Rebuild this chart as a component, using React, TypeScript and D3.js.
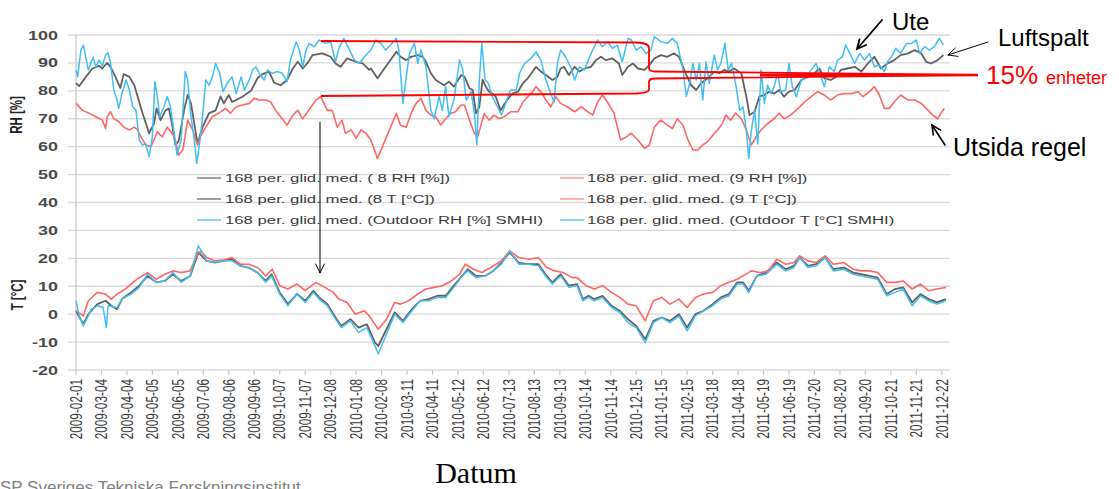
import React from 'react';
import * as d3 from 'd3';

const START = '2009-02-01';
const END = '2012-01-01';

const tickLabels = [
  '2009-02-01','2009-03-04','2009-04-04','2009-05-05','2009-06-05','2009-07-06','2009-08-06','2009-09-06','2009-10-07','2009-11-07','2009-12-08',
  '2010-01-08','2010-02-08','2010-03-11','2010-04-11','2010-05-12','2010-06-12','2010-07-13','2010-08-13','2010-09-13','2010-10-14','2010-11-14','2010-12-15',
  '2011-01-15','2011-02-15','2011-03-18','2011-04-18','2011-05-19','2011-06-19','2011-07-20','2011-08-20','2011-09-20','2011-10-21','2011-11-21','2011-12-22',
];
const yTicks = [100, 90, 80, 70, 60, 50, 40, 30, 20, 10, 0, -10, -20];

const legendLeft = ['168 per. glid. med. ( 8 RH [%])', '168 per. glid. med. (8 T [°C])', '168 per. glid. med. (Outdoor RH [%] SMHI)'];
const legendRight = ['168 per. glid. med. (9 RH [%])', '168 per. glid. med. (9 T [°C])', '168 per. glid. med. (Outdoor T [°C] SMHI)'];

// [days since START, value]
const rh8: [number, number][] = [[0,82.7],[4,81.7],[12,85],[20,88],[28,89],[32,88],[38,90],[42,88.6],[48,85],[54,81],[58,86],[65,85],[71,82],[75,78],[81,72],[89,64.8],[95,68.3],[98,73.7],[103,69.5],[109,73],[113,73.7],[117,68],[121,60.6],[125,62],[132,73.7],[136,78.5],[140,75.5],[148,61],[154,67],[162,72],[170,73],[176,78],[180,75.5],[186,78.5],[190,76],[195,76.7],[203,78],[213,80],[221,84.5],[227,86],[235,86.9],[241,83],[249,82],[257,83.9],[264,88],[270,90.4],[276,88],[282,90],[288,92.8],[300,93.4],[310,92.2],[316,89.8],[322,88.6],[330,91.6],[341,90.4],[349,89.8],[357,87.5],[359,88],[367,84.5],[390,94],[395,92.2],[402,91],[408,92.2],[416,92.8],[422,92.2],[426,90.4],[432,86.3],[438,83.9],[448,82],[454,83.3],[460,81.5],[469,85.7],[473,85],[479,80.9],[483,80.3],[487,71.9],[491,74.3],[495,83.9],[499,81.5],[503,79.7],[507,79],[511,77.9],[517,73],[521,75],[525,76.7],[531,79],[538,79.7],[544,82.7],[550,84.5],[556,86.9],[560,88.6],[566,86.9],[572,85.7],[580,83.9],[586,85],[590,88],[594,88.6],[600,85.7],[607,88.6],[613,86.9],[619,88],[627,88.6],[633,91],[639,92.2],[645,91],[653,91.6],[661,89.8],[665,85.7],[672,88.6],[678,89.8],[684,88],[692,87.5],[698,89.2],[704,91.6],[712,92.8],[720,92.2],[728,93.4],[734,92.2],[739,88.6],[743,85.7],[749,82],[755,80.3],[761,82.7],[769,84.5],[777,86.9],[783,86.3],[789,87.5],[795,86.9],[801,88],[810,86.3],[816,78],[820,71.3],[826,72.5],[832,78],[838,78.5],[844,79.7],[850,79],[856,80.3],[862,77.9],[868,79.7],[875,80.3],[883,83.9],[891,85],[899,86.3],[905,88],[911,84.5],[919,83.9],[925,85],[931,87.5],[939,88],[948,88.6],[956,86.9],[964,89.8],[972,92.2],[980,88],[988,89.8],[996,91],[1004,92.8],[1013,93.4],[1021,94.6],[1029,93.4],[1035,90.4],[1041,89.8],[1049,91],[1056,92.8]];

const rh9: [number, number][] = [[0,75.5],[8,73],[16,72],[24,70.7],[32,69.5],[36,66.5],[38,70.7],[42,72.5],[46,70],[52,69],[58,67],[65,66],[71,67],[75,66],[79,63.5],[85,60.6],[91,60],[95,62.4],[99,65.4],[105,63.5],[111,67],[117,64.8],[121,62.4],[125,57],[130,58.8],[136,69.5],[142,66],[148,60.6],[152,64],[158,67],[166,70.7],[174,72],[182,73.7],[188,72],[195,74.3],[203,74.9],[211,75.5],[217,77.3],[223,76.7],[231,76.7],[237,76],[243,73],[251,70],[257,67.7],[264,71.3],[270,73],[276,70],[282,72.5],[292,76.7],[298,77.9],[306,73],[312,73],[318,67],[324,69.5],[328,64.8],[335,66],[341,63],[347,66],[353,64.8],[359,62.4],[367,55.8],[390,71.9],[395,67.7],[402,67],[408,71.9],[414,75.5],[420,77.3],[426,73],[432,71.3],[438,70.7],[444,67.7],[450,70],[456,71.9],[462,72.5],[469,74.9],[473,74.9],[479,69.5],[485,64.8],[489,63.5],[493,67.7],[497,71.9],[503,69.5],[509,71.3],[515,70],[521,70.7],[529,72.5],[538,72.5],[544,76],[550,77.9],[556,79.7],[560,81.5],[566,79.7],[572,76.7],[578,74.3],[584,77.9],[590,75.5],[598,74.3],[607,72.5],[615,74.3],[623,72.5],[629,71.3],[635,76],[641,78.5],[647,76],[655,71.9],[663,62.4],[670,63.5],[676,64.8],[684,62.4],[692,59.4],[698,60.6],[704,67],[712,69.5],[720,67.7],[726,66.5],[732,70],[739,67.7],[745,62.4],[751,58.8],[757,58.8],[763,60.6],[769,61.8],[775,64],[781,66],[787,68.3],[791,71.3],[797,69.5],[803,72],[810,70],[816,66],[822,60.6],[828,63.5],[834,66],[842,68.3],[850,70],[856,72],[862,70],[870,71.3],[879,73.7],[887,76],[895,77.9],[903,79.7],[911,78.5],[919,76.7],[927,78.5],[935,79],[944,79],[952,79.7],[958,77.9],[966,79.7],[972,81.5],[978,78.5],[984,73.7],[990,73.7],[996,76],[1004,78.5],[1013,76.7],[1021,76.7],[1029,75.5],[1035,73.7],[1043,71.3],[1049,70],[1053,72],[1057,73.7]];

const rhOut: [number, number][] = [[0,87.5],[2,85],[6,94.6],[9,96.4],[12,92],[15,87.5],[18,90],[21,92],[24,88.6],[28,91],[32,89],[36,92.8],[39,93.7],[42,90],[46,80.3],[50,76.7],[52,73.7],[56,79],[61,83.9],[65,80.3],[69,74.3],[73,73],[77,62.4],[81,60.6],[85,61],[89,56.4],[93,63.5],[96,83.3],[99,78],[102,70.7],[107,74.3],[111,78],[115,74.3],[119,66],[123,57],[128,62.4],[133,86.9],[136,83.9],[140,70.7],[144,62.4],[147,54],[151,62.4],[154,70.7],[158,83.9],[162,82],[166,85],[170,89.8],[175,86.3],[179,79.7],[184,82.7],[190,85],[195,79],[201,85],[205,80.3],[211,83.9],[215,87.5],[219,88.6],[223,86.3],[229,83.9],[233,87.5],[239,86.3],[245,86.9],[251,86.3],[257,83.3],[261,91],[268,97.6],[272,94.6],[276,88.6],[280,94.6],[284,97],[290,95.8],[296,98.2],[304,97],[310,97.6],[316,90.4],[320,95.2],[326,98.8],[333,94.6],[339,91],[345,89.8],[351,92.2],[359,94.6],[365,98.2],[371,97],[377,94.6],[383,96.4],[390,98.8],[393,94.6],[398,75.5],[402,85],[406,93.4],[412,97],[416,89.8],[420,94.6],[426,88.6],[432,73],[436,70],[442,78],[446,73],[450,81.5],[454,70.7],[460,76.7],[467,91],[471,87.5],[475,76.7],[481,79.7],[485,71.9],[488,60.6],[491,83.9],[494,97],[498,83.9],[502,82.7],[507,77.9],[513,74.3],[518,71.3],[523,75.5],[529,80.3],[536,80.3],[540,86.3],[546,89.8],[554,91.6],[560,94],[566,91],[572,83.9],[578,79],[582,76],[586,89.8],[590,94.6],[596,92.2],[603,88],[607,83.9],[613,88.6],[619,87.5],[627,93.4],[635,98.2],[641,95.8],[647,97.6],[653,95.2],[659,96.4],[665,90.4],[672,98.8],[676,98.2],[682,94.6],[688,95.8],[694,93.4],[700,94.6],[704,99.4],[712,97.6],[720,97],[726,98.8],[732,97],[739,87.5],[743,78],[747,82.7],[751,89.8],[755,83.9],[759,89.8],[763,76.7],[767,90.4],[771,82.7],[777,92.8],[781,87.5],[785,89.8],[790,97],[794,87.5],[798,89.8],[803,82.7],[808,73],[812,74.3],[816,66],[819,55.8],[822,65.4],[826,73],[830,61],[834,87.5],[838,75.5],[842,82],[846,79],[850,81.5],[854,86.3],[858,79.7],[864,80.3],[868,89.8],[872,81.5],[877,77.9],[883,83.9],[889,85],[895,87.5],[901,89.8],[907,85],[911,81.5],[917,88.6],[923,86.9],[927,91],[933,92.2],[937,96.4],[942,93.4],[948,89.8],[954,93.4],[960,91],[966,93.4],[972,88.6],[978,89.2],[984,86.9],[988,90.4],[994,92.8],[998,95.2],[1004,93.4],[1011,97],[1017,97],[1023,98.2],[1027,93.4],[1033,95.8],[1039,94.6],[1045,95.8],[1051,98.8],[1056,96.4]];

const t8: [number, number][] = [[0,1.2],[9,-3.6],[15,0],[26,3.6],[36,4.8],[43,3],[50,1.8],[56,5.4],[67,7.8],[77,10.2],[87,13.7],[98,11.4],[108,11.9],[118,14.3],[128,11.9],[139,13.7],[149,22.1],[159,19.1],[169,18.5],[180,19.1],[190,19.7],[200,17.3],[210,16.7],[221,14.9],[231,11.9],[238,14.3],[248,7.8],[258,3.6],[269,7.2],[279,4.8],[289,8.4],[296,6],[306,3.6],[316,-1.2],[323,-4.2],[334,-1.8],[344,-4.8],[354,-3.6],[364,-10.2],[368,-11.4],[388,0.6],[398,-2.4],[409,1.8],[419,4.8],[429,5.4],[440,6.6],[450,6.6],[460,10.2],[470,13.7],[477,16.1],[487,13.7],[498,13.7],[508,15.5],[518,18.5],[528,22.1],[539,18.5],[549,17.9],[563,17.9],[573,13.7],[580,11.4],[590,14.3],[600,10.2],[610,10.8],[617,5.4],[624,6.6],[631,5.4],[641,6.6],[652,3],[662,1.2],[672,-1.8],[682,-4.2],[693,-9],[703,-2.4],[713,-1.2],[723,-2.4],[734,0],[744,-4.8],[754,0],[764,1.2],[775,3.6],[785,6],[795,7.2],[805,11.4],[812,11.4],[819,8.4],[829,13.7],[840,14.9],[853,18.5],[864,16.1],[874,17.3],[881,20.3],[891,17.3],[901,17.9],[912,20.3],[922,16.1],[935,16.7],[946,14.9],[956,14.3],[966,13.7],[976,13.1],[987,7.2],[997,9],[1007,9.6],[1018,4.2],[1028,7.2],[1038,5.4],[1048,4.2],[1059,5.4]];

const t9: [number, number][] = [[0,1.2],[9,-0.6],[15,4.8],[26,7.8],[36,7.2],[43,5.4],[50,7.2],[60,9],[74,12.5],[87,14.9],[98,12.5],[108,14.3],[118,15.5],[128,14.9],[139,15.5],[145,19.7],[152,22.7],[159,20.3],[169,19.1],[180,19.5],[190,20.3],[200,17.9],[210,17.9],[221,16.7],[231,13.7],[239,16.1],[248,10.2],[258,9],[269,10.8],[279,8.4],[292,11.4],[303,9.6],[313,7.8],[320,5.4],[330,4.2],[340,0],[351,1.2],[357,-0.6],[368,-5.4],[378,-1.8],[388,4.2],[395,3.6],[405,4.8],[416,7.2],[426,9],[436,9.6],[446,10.2],[457,11.9],[467,14.3],[474,17.9],[484,16.1],[494,14.9],[505,16.7],[518,19.1],[528,22.7],[539,20.3],[552,19.7],[563,20.3],[573,16.7],[583,15.5],[593,14.9],[604,13.1],[610,13.1],[621,10.2],[631,9],[641,10.2],[652,7.8],[662,6],[672,3.6],[682,3],[693,-2.4],[703,4.8],[713,6],[723,3.6],[734,5.4],[744,2.4],[754,6],[764,7.2],[775,7.8],[785,10.2],[795,11.4],[805,12.5],[812,13.7],[822,15.5],[833,14.9],[843,15.5],[853,19.7],[864,17.9],[874,18.5],[881,20.9],[891,19.1],[901,18.5],[912,20.9],[922,17.9],[935,18.5],[946,16.1],[956,15.5],[966,15.5],[976,14.9],[987,11.4],[997,11.4],[1007,11.9],[1018,9],[1028,10.8],[1038,8.4],[1048,9],[1059,9.6]];

const tOut: [number, number][] = [[0,4.8],[4,-0.6],[9,-4.2],[19,1.8],[26,3],[33,2.4],[37,-4.8],[39,3],[50,2.4],[56,5.4],[67,7.2],[77,9.6],[87,14.3],[98,11.4],[108,11.9],[118,14.9],[128,11.4],[139,13.7],[149,24.5],[159,19.1],[169,18.5],[180,19.1],[190,19.1],[200,17.3],[210,16.7],[221,14.9],[231,11.4],[238,13.7],[248,7.2],[258,3],[269,7.2],[279,4.2],[289,7.8],[296,5.4],[306,3],[316,-1.8],[323,-4.8],[334,-2.4],[344,-6.6],[354,-4.8],[364,-11.4],[368,-14.3],[388,0],[398,-3],[409,1.2],[419,4.8],[429,4.8],[440,6],[450,6],[460,9.6],[470,13.7],[477,15.5],[487,13.1],[498,13.7],[508,15.5],[518,17.9],[528,22.7],[539,17.9],[549,17.9],[563,17.3],[573,13.1],[580,10.8],[590,13.7],[600,9.6],[610,10.2],[617,4.8],[624,6],[631,4.8],[641,6],[652,2.4],[662,0.6],[672,-3],[682,-4.8],[693,-10.2],[703,-3],[713,-1.2],[723,-3],[734,-0.6],[744,-6],[754,-0.6],[764,1.2],[775,3],[785,5.4],[795,6.6],[805,10.8],[812,10.8],[819,7.8],[829,13.7],[840,14.3],[853,17.9],[864,15.5],[874,16.7],[881,20.3],[891,16.7],[901,17.3],[912,20.3],[922,15.5],[935,16.1],[946,14.3],[956,13.7],[966,13.1],[976,12.5],[987,6.6],[997,7.8],[1007,9],[1018,3],[1028,6.6],[1038,4.8],[1048,3.6],[1059,4.8]];

const GRAY = '#606060';
const RED = '#ff6666';
const BLUE = '#42bff2';
const SANS = '"Liberation Sans", Arial, sans-serif';
const SX = 1.5;

function Arrow({ x1, y1, x2, y2, w = 1, head = 9 }: { x1: number; y1: number; x2: number; y2: number; w?: number; head?: number }) {
  const a = Math.atan2(y2 - y1, x2 - x1);
  const s = 0.45;
  const p1 = [x2 - head * Math.cos(a - s), y2 - head * Math.sin(a - s)];
  const p2 = [x2 - head * Math.cos(a + s), y2 - head * Math.sin(a + s)];
  return (
    <g stroke="#000" strokeWidth={w} fill="none" strokeLinecap="round">
      <line x1={x1} y1={y1} x2={x2} y2={y2} />
      <polyline points={`${p1[0]},${p1[1]} ${x2},${y2} ${p2[0]},${p2[1]}`} />
    </g>
  );
}

export default function App() {
  const parse = d3.timeParse('%Y-%m-%d');
  const t0 = parse(START) as Date;
  const x = d3.scaleTime().domain([t0, parse(END) as Date]).range([76, 950]);
  const y = d3.scaleLinear().domain([-20, 100]).range([370, 35]);
  const line = d3
    .line<[number, number]>()
    .x((d) => x(d3.timeDay.offset(t0, d[0])))
    .y((d) => y(d[1]));

  const series: { data: [number, number][]; color: string; w: number }[] = [
    { data: rh8, color: GRAY, w: 1.8 },
    { data: rh9, color: RED, w: 1.6 },
    { data: t8, color: GRAY, w: 1.8 },
    { data: t9, color: RED, w: 1.6 },
    { data: rhOut, color: BLUE, w: 1.5 },
    { data: tOut, color: BLUE, w: 1.5 },
  ];
  const legendColorsLeft = [GRAY, GRAY, BLUE];
  const legendColorsRight = ['#ff8080', '#ff8080', BLUE];
  const legendRows = [178, 199, 220];

  return (
    <div style={{ position: 'absolute', left: 0, top: 0 }}>
      <svg width={1119} height={489} style={{ display: 'block', background: '#fff' }}>
        {yTicks.map((v) => (
          <line key={v} x1={68} x2={950} y1={y(v)} y2={y(v)} stroke="#d9d9d9" strokeWidth={1.3} />
        ))}
        <line x1={76} x2={76} y1={y(100)} y2={y(-20)} stroke="#c8c8c8" strokeWidth={1.3} />
        {tickLabels.map((s) => (
          <line key={s} x1={x(parse(s) as Date)} x2={x(parse(s) as Date)} y1={370} y2={375} stroke="#c8c8c8" strokeWidth={1.2} />
        ))}
        {yTicks.map((v) => (
          <text key={v} transform={`translate(58,${y(v) + 4.5}) scale(${SX},1)`} textAnchor="end" fontFamily={SANS} fontSize={12} fontWeight="bold" fill="#4a4a4a">
            {v}
          </text>
        ))}
        <text transform={`translate(16,115) scale(${SX},1) rotate(-90)`} textAnchor="middle" dominantBaseline="central" fontFamily={SANS} fontSize={11.5} fontWeight="bold" fill="#222">
          RH [%]
        </text>
        <text transform={`translate(17,295) scale(${SX},1) rotate(-90)`} textAnchor="middle" dominantBaseline="central" fontFamily={SANS} fontSize={11.5} fontWeight="bold" fill="#222">
          T [°C]
        </text>
        {tickLabels.map((s) => (
          <text key={s} transform={`translate(${x(parse(s) as Date)},379) scale(1.4,1) rotate(-90)`} textAnchor="end" dominantBaseline="central" fontFamily={SANS} fontSize={11.8} fill="#3a3a3a">
            {s}
          </text>
        ))}
        {legendLeft.map((s, i) => (
          <g key={s}>
            <line x1={197} x2={221} y1={legendRows[i]} y2={legendRows[i]} stroke={legendColorsLeft[i]} strokeWidth={1.2} />
            <text transform={`translate(225,${legendRows[i] + 4}) scale(1.55,1)`} fontFamily={SANS} fontSize={10.8} fill="#3a3a3a">
              {s}
            </text>
          </g>
        ))}
        {legendRight.map((s, i) => (
          <g key={s}>
            <line x1={560} x2={584} y1={legendRows[i]} y2={legendRows[i]} stroke={legendColorsRight[i]} strokeWidth={1.2} />
            <text transform={`translate(587,${legendRows[i] + 4}) scale(1.55,1)`} fontFamily={SANS} fontSize={10.8} fill="#3a3a3a">
              {s}
            </text>
          </g>
        ))}
        {series.map((s, i) => (
          <path key={i} d={line(s.data) as string} fill="none" stroke={s.color} strokeWidth={s.w} strokeLinejoin="round" />
        ))}
        <g fill="none" stroke="#ff0000" strokeWidth={1.8}>
          <path d="M321,41 L636,42.5 Q649,43 649,48 L649,68 Q649,71.5 655,71.5 L978,75" />
          <path d="M321,96 L636,93.5 Q649,93 649,89 L649,82 Q649,78.5 655,78.5 L978,75" />
        </g>
        <line x1={760} x2={978} y1={75} y2={75} stroke="#ff0000" strokeWidth={2.6} />
        <Arrow x1={320} y1={122} x2={320} y2={273} w={1} head={10} />
        <text x={892} y={30} fontFamily={SANS} fontSize={24} fill="#000">Ute</text>
        <Arrow x1={882} y1={20} x2={857} y2={49} w={1.8} head={10} />
        <text x={998} y={46} fontFamily={SANS} fontSize={24} fill="#000">Luftspalt</text>
        <Arrow x1={988} y1={42} x2={948} y2={55} w={1} head={10} />
        <text x={986} y={84} fontFamily={SANS} fontSize={26} fill="#ff0000">
          15%<tspan fontSize={18} dx={8}>enheter</tspan>
        </text>
        <text x={953} y={156} fontFamily={SANS} fontSize={25} fill="#000">Utsida regel</text>
        <Arrow x1={945} y1={145} x2={932} y2={125} w={1.6} head={10} />
        <text x={476} y={483} textAnchor="middle" fontFamily='"Liberation Serif", "Times New Roman", serif' fontSize={30} fill="#000">Datum</text>
        <text x={0} y={493} fontFamily={SANS} fontSize={17} fill="#808080">SP Sveriges Tekniska Forskningsinstitut</text>
      </svg>
    </div>
  );
}
